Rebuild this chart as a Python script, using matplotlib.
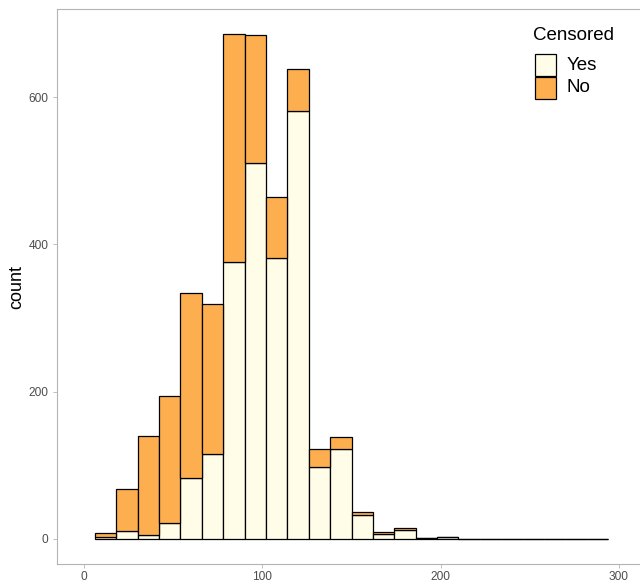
import matplotlib
matplotlib.use("Agg")
import matplotlib.pyplot as plt
from matplotlib.patches import Rectangle
import numpy as np

plt.rcParams['font.family'] = ['Liberation Sans', 'DejaVu Sans']

# histogram bins (width 12), counts
bin_width = 12
bin_left = [6, 18, 30, 42, 54, 66, 78, 90, 102, 114, 126, 138,
            150, 162, 174, 186, 198, 210, 222, 234, 246, 258, 270, 282]
yes_counts = [2, 10, 5, 21, 83, 115, 376, 511, 381, 582, 98, 122,
              32, 7, 12, 1, 3, 0, 0, 0, 0, 0, 0, 0]
no_counts = [6, 57, 135, 173, 251, 204, 310, 174, 83, 56, 24, 16,
             4, 2, 2, 0, 0, 0, 0, 0, 0, 0, 0, 0]
x_ticks = [0, 100, 200, 300]
y_ticks = [0, 200, 400, 600]
legend_labels = ['Yes', 'No']

yes_col = '#FFFDE7'
no_col = '#FDAE4F'
W, H = 640, 582

fig = plt.figure(figsize=(6.4, 5.82), dpi=100)
ax = fig.add_axes([57.3 / W, 18 / H, 1 - 57.3 / W, (564 - 9.3) / H])

ax.bar(bin_left, yes_counts, width=bin_width, align='edge',
       color=yes_col, edgecolor='black', linewidth=0.9)
ax.bar(bin_left, no_counts, bottom=yes_counts, width=bin_width, align='edge',
       color=no_col, edgecolor='black', linewidth=0.9)

ax.set_xlim(-15, 311.8)
ax.set_ylim(-34.3, 719.6)
ax.set_xticks(x_ticks)
ax.set_yticks(y_ticks)
ax.tick_params(colors='#B3B3B3', labelcolor='#4D4D4D', labelsize=8.6,
               length=3, width=0.6)
ax.tick_params(axis='x', pad=2)
for side in ['left', 'top', 'bottom']:
    ax.spines[side].set_color('#B3B3B3')
    ax.spines[side].set_linewidth(0.8)
ax.spines['right'].set_visible(False)

ax.set_ylabel('count', fontsize=13, color='black', labelpad=2)

# legend drawn by hand (title, two keys, labels) in pixel positions
fig.text(533 / W, 1 - 35 / H, 'Censored', fontsize=13.5, va='center', ha='left')
for i, (lab, col) in enumerate(zip(legend_labels, [yes_col, no_col])):
    top = 54 + i * 22.5
    fig.add_artist(Rectangle((535 / W, 1 - (top + 22) / H), 21 / W, 22 / H,
                             transform=fig.transFigure, facecolor=col,
                             edgecolor='black', linewidth=0.9))
    fig.text(567 / W, 1 - (top + 11) / H, lab, fontsize=13.5,
             va='center', ha='left')

fig.savefig('out.png', dpi=100)
